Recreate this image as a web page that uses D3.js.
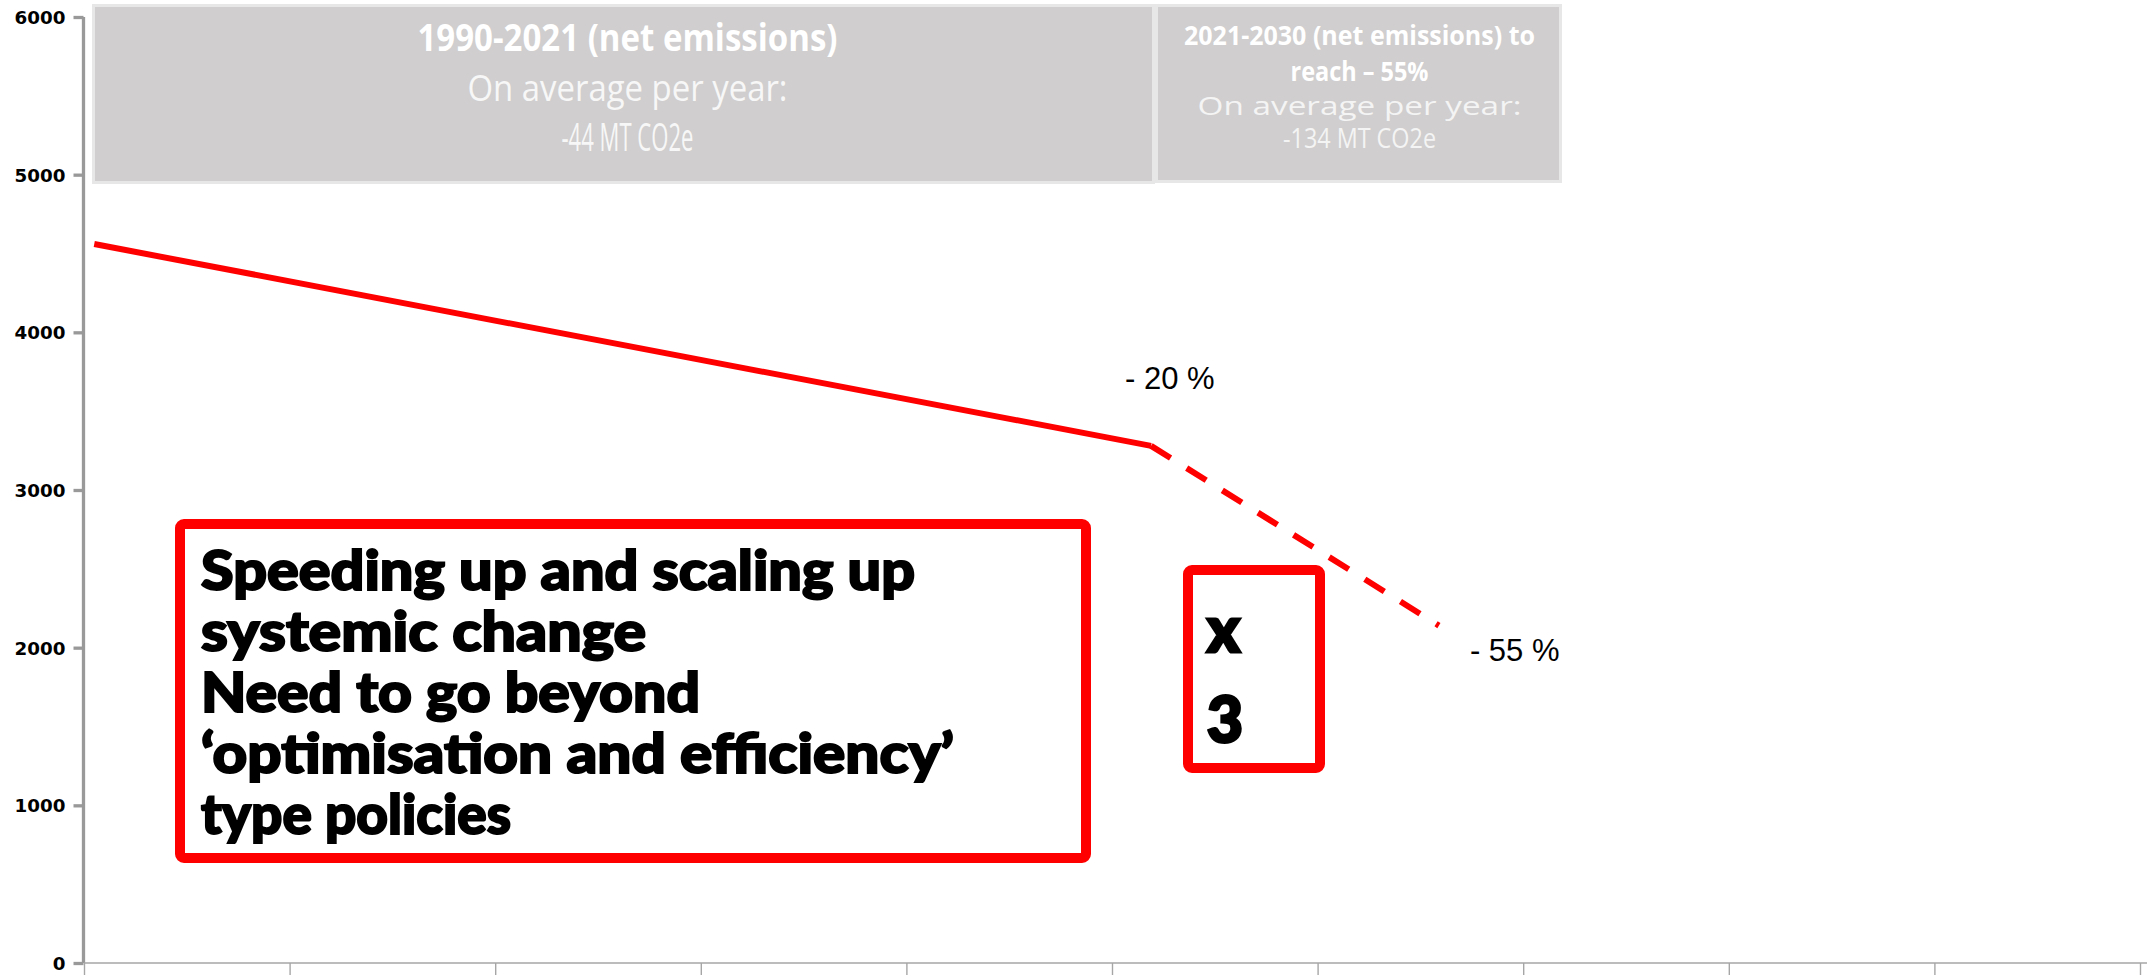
<!DOCTYPE html>
<html>
<head>
<meta charset="utf-8">
<script src="https://cdn.jsdelivr.net/npm/d3@7"></script>
<style>
  html, body { margin: 0; padding: 0; background: #ffffff; }
  svg { display: block; }
</style>
</head>
<body>
<svg id="chart" width="2147" height="976"></svg>
<script>
// ---------------- DATA ----------------
const yTickValues = [0, 1000, 2000, 3000, 4000, 5000, 6000];
const xSlotTicks = [0, 1, 2, 3, 4, 5, 6, 7, 8, 9, 10];
const pointYears = ["1990", "2021", "2030"];
const pointSlots = [0.05, 5.19, 6.59];      // position along the category axis
const pointValues = [4560, 3280, 2140];      // net emissions, Mt CO2e
const pctLabels = ["- 20 %", "- 55 %"];
const box1Lines = ["1990-2021 (net emissions)", "On average per year:", "-44 MT CO2e"];
const box2Lines = ["2021-2030 (net emissions) to", "reach \u2013 55%", "On average per year:", "-134 MT CO2e"];
const messageLines = [
  "Speeding up and scaling up",
  "systemic change",
  "Need to go beyond",
  "\u2018optimisation and efficiency\u2019",
  "type policies"
];
const factorLines = ["x", "3"];

// ---------------- LAYOUT ----------------
const svg = d3.select("#chart");
const x = d3.scaleLinear().domain([0, 10]).range([84, 2140]);
const y = d3.scaleLinear().domain([0, 6000]).range([963, 17]);

const points = pointSlots.map((s, i) => ({ slot: s, value: pointValues[i], year: pointYears[i] }));

// grey info boxes
const boxes = [
  { x0: 92, x1: 1155, y0: 4, y1: 184 },
  { x0: 1155, x1: 1562, y0: 4, y1: 183 }
];
svg.selectAll("rect.info").data(boxes).join("rect")
  .attr("class", "info")
  .attr("x", d => d.x0 + 1.5).attr("y", d => d.y0 + 1.5)
  .attr("width", d => d.x1 - d.x0 - 3).attr("height", d => d.y1 - d.y0 - 3)
  .attr("fill", "#d0cece").attr("stroke", "#e8e7e7").attr("stroke-width", 3);

const box1Style = [
  { y: 51, size: 38, weight: 700, len: 420, fill: "#ffffff" },
  { y: 101, size: 36, weight: 400, len: 320, fill: "#f7f7f7" },
  { y: 151, size: 38, weight: 400, len: 132, fill: "#f7f7f7" }
];
svg.selectAll("text.b1").data(box1Lines).join("text")
  .attr("class", "b1")
  .attr("x", (boxes[0].x0 + boxes[0].x1) / 2 + 4)
  .attr("y", (d, i) => box1Style[i].y)
  .attr("text-anchor", "middle")
  .attr("font-family", "'Open Sans', 'Liberation Sans', sans-serif")
  .attr("font-size", (d, i) => box1Style[i].size)
  .attr("font-weight", (d, i) => box1Style[i].weight)
  .attr("fill", (d, i) => box1Style[i].fill)
  .attr("textLength", (d, i) => box1Style[i].len)
  .attr("lengthAdjust", "spacingAndGlyphs")
  .text(d => d);

const box2Style = [
  { y: 45, size: 26, weight: 700, len: 351, fill: "#ffffff" },
  { y: 81, size: 26, weight: 700, len: 138, fill: "#ffffff" },
  { y: 115, size: 26, weight: 400, len: 324, fill: "#f4f4f4" },
  { y: 148, size: 27, weight: 400, len: 153, fill: "#f4f4f4" }
];
svg.selectAll("text.b2").data(box2Lines).join("text")
  .attr("class", "b2")
  .attr("x", (boxes[1].x0 + boxes[1].x1) / 2 + 1)
  .attr("y", (d, i) => box2Style[i].y)
  .attr("text-anchor", "middle")
  .attr("font-family", "'Open Sans', 'Liberation Sans', sans-serif")
  .attr("font-size", (d, i) => box2Style[i].size)
  .attr("font-weight", (d, i) => box2Style[i].weight)
  .attr("fill", (d, i) => box2Style[i].fill)
  .attr("textLength", (d, i) => box2Style[i].len)
  .attr("lengthAdjust", "spacingAndGlyphs")
  .text(d => d);

// ---------------- AXES ----------------
const yAxis = d3.axisLeft(y).tickValues(yTickValues).tickSize(10).tickPadding(8).tickFormat(d3.format("d"));
const gy = svg.append("g").attr("transform", "translate(83.5,0)").call(yAxis);
gy.attr("font-size", null).attr("font-family", null);
gy.select(".domain").attr("stroke", "#999999").attr("stroke-width", 3.3).attr("d", `M0,${y(6000)}V${y(0)}`);
gy.selectAll(".tick line").attr("stroke", "#999999").attr("stroke-width", 3.3);
const yLabels = gy.selectAll(".tick text")
  .attr("font-family", "DejaVu Sans, Verdana, sans-serif")
  .attr("font-weight", 700).attr("font-size", 19).attr("fill", "#000").attr("dy", "0.36em");
// size the labels so that a 4-digit label is ~51px wide, whatever font resolves
let widest = 0;
yLabels.each(function () { widest = Math.max(widest, this.getComputedTextLength()); });
if (widest > 0) yLabels.attr("font-size", 19 * 51 / widest);

const xAxis = d3.axisBottom(x).tickValues(xSlotTicks).tickSize(12).tickFormat("");
const gx = svg.append("g").attr("transform", `translate(0,${y(0)})`).call(xAxis);
gx.select(".domain").attr("stroke", "#a6a6a6").attr("stroke-width", 1.6).attr("d", `M${x(0)},0H2147`);
gx.selectAll(".tick line").attr("stroke", "#a6a6a6").attr("stroke-width", 1.4);

// ---------------- LINE ----------------
const line = d3.line().x(d => x(d.slot)).y(d => y(d.value));
svg.append("path").datum(points.slice(0, 2))
  .attr("d", line).attr("fill", "none")
  .attr("stroke", "#ff0000").attr("stroke-width", 6).attr("stroke-linejoin", "miter");
svg.append("path").datum(points.slice(1))
  .attr("d", line).attr("fill", "none")
  .attr("stroke", "#ff0000").attr("stroke-width", 6)
  .attr("stroke-dasharray", "23,19");

// percentage labels
const pctAnchors = [
  { p: points[1], dx: -26, dy: -57 },
  { p: points[2], dx: 31, dy: 35 }
];
svg.selectAll("text.pct").data(pctLabels).join("text")
  .attr("class", "pct")
  .attr("x", (d, i) => x(pctAnchors[i].p.slot) + pctAnchors[i].dx)
  .attr("y", (d, i) => y(pctAnchors[i].p.value) + pctAnchors[i].dy)
  .attr("font-family", "'Liberation Sans', Arial, sans-serif")
  .attr("font-size", 31).attr("fill", "#000")
  .text(d => d);

// ---------------- MESSAGE BOXES ----------------
svg.append("rect")
  .attr("x", 180).attr("y", 524).attr("width", 906).attr("height", 334)
  .attr("rx", 4).attr("fill", "#ffffff").attr("stroke", "#ff0000").attr("stroke-width", 10);

const msgLen = [714, 445, 499, 753, 310];
svg.selectAll("text.msg").data(messageLines).join("text")
  .attr("class", "msg")
  .attr("x", 201)
  .attr("y", (d, i) => 590 + i * 61)
  .attr("font-family", "Lato, 'Open Sans', sans-serif")
  .attr("font-weight", 900).attr("font-size", 55).attr("fill", "#000")
  .attr("stroke", "#000").attr("stroke-width", 2).attr("paint-order", "stroke")
  .attr("textLength", (d, i) => msgLen[i])
  .attr("lengthAdjust", "spacingAndGlyphs")
  .text(d => d);

svg.append("rect")
  .attr("x", 1188).attr("y", 570).attr("width", 132).attr("height", 198)
  .attr("rx", 4).attr("fill", "#ffffff").attr("stroke", "#ff0000").attr("stroke-width", 10);

svg.selectAll("text.fac").data(factorLines).join("text")
  .attr("class", "fac")
  .attr("x", 1207)
  .attr("y", (d, i) => 652 + i * 90)
  .attr("font-family", "Lato, 'DejaVu Sans', sans-serif")
  .attr("font-weight", 900).attr("font-size", 62).attr("fill", "#000")
  .attr("stroke", "#000").attr("stroke-width", 3).attr("paint-order", "stroke")
  .text(d => d);
</script>
</body>
</html>
